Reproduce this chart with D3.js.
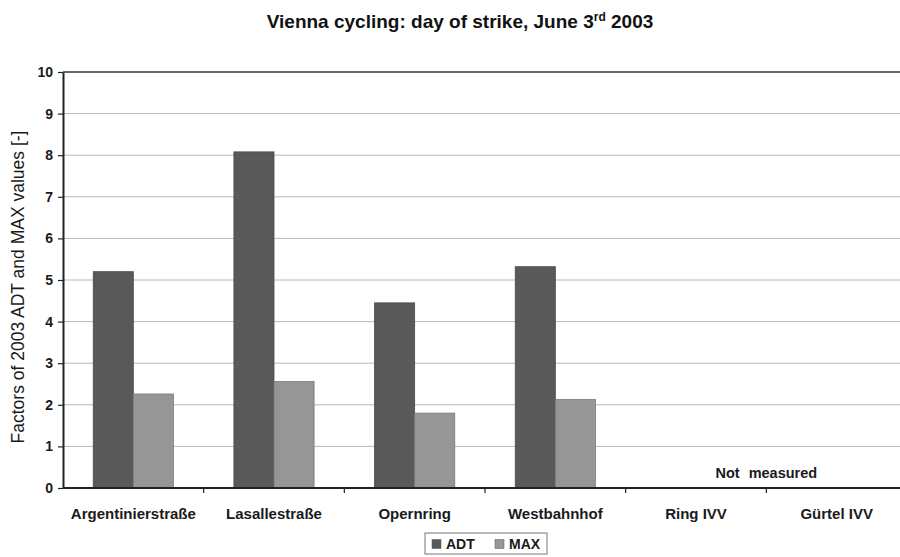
<!DOCTYPE html>
<html>
<head>
<meta charset="utf-8">
<script src="https://cdn.jsdelivr.net/npm/d3@7"></script>
<style>
  body { margin: 0; background: #fff; }
  text { font-family: "Liberation Sans", Arial, sans-serif; fill: #1a1a1a; }
</style>
</head>
<body>
<div id="chart"></div>
<script>
// data
const sites = ["Argentinierstraße", "Lasallestraße", "Opernring", "Westbahnhof", "Ring IVV", "Gürtel IVV"];
const adt = [5.2, 8.08, 4.45, 5.32, null, null];
const maxv = [2.26, 2.56, 1.8, 2.13, null, null];
const yTicks = [0, 1, 2, 3, 4, 5, 6, 7, 8, 9, 10];
const seriesNames = ["ADT", "MAX"];
const colors = ["#595959", "#969696"];

const width = 900, height = 557;
const plotLeft = 63, plotRight = 907, plotTop = 72, plotBottom = 488;

const svg = d3.select("#chart").append("svg")
    .attr("width", width)
    .attr("height", height);

const x = d3.scaleBand().domain(sites).range([plotLeft, plotRight]).paddingInner(0.43).paddingOuter(0.215);
const xs = d3.scaleBand().domain(seriesNames).range([0, x.bandwidth()]);
const y = d3.scaleLinear().domain([0, 10]).range([plotBottom, plotTop]);

// gridlines
svg.append("g")
    .selectAll("line")
    .data(yTicks.filter(d => d > 0 && d < 10))
    .join("line")
    .attr("x1", plotLeft).attr("x2", plotRight)
    .attr("y1", d => y(d)).attr("y2", d => y(d))
    .style("stroke", "#b8b8b8")
    .style("stroke-width", 1);

// top border of the plot
svg.append("line")
    .attr("x1", plotLeft).attr("x2", plotRight)
    .attr("y1", y(10)).attr("y2", y(10))
    .style("stroke", "#333").style("stroke-width", 1.5);

// bars
const rows = sites.map((s, i) => ({site: s, vals: [adt[i], maxv[i]]}));
const groups = svg.append("g").selectAll("g")
    .data(rows)
    .join("g")
    .attr("transform", d => `translate(${x(d.site)},0)`);

groups.selectAll("rect")
    .data(d => d.vals.map((v, j) => ({name: seriesNames[j], v, j})).filter(e => e.v != null))
    .join("rect")
    .attr("x", e => xs(e.name))
    .attr("y", e => y(e.v))
    .attr("width", xs.bandwidth())
    .attr("height", e => y(0) - y(e.v))
    .style("fill", e => colors[e.j])
    .style("stroke", e => e.j == 0 ? "#4a4a4a" : "#7a7a7a")
    .style("stroke-width", 0.8);

// axes
const yAxis = d3.axisLeft(y).tickValues(yTicks).tickSize(5).tickSizeOuter(0).tickPadding(5);
const gy = svg.append("g")
    .attr("transform", `translate(${plotLeft},0)`)
    .call(yAxis);
gy.select(".domain").style("stroke", "#222").style("stroke-width", 2);
gy.selectAll(".tick line").style("stroke", "#222").style("stroke-width", 1.2);
gy.selectAll(".tick text")
    .style("font-size", "14px").style("font-weight", "bold")
    .style("font-family", "Liberation Sans, Arial, sans-serif").style("fill", "#1a1a1a");

// category boundaries as ticks
const xAxisG = svg.append("g").attr("transform", `translate(0,${plotBottom})`);
xAxisG.append("line")
    .attr("x1", plotLeft).attr("x2", plotRight)
    .style("stroke", "#222").style("stroke-width", 2);
xAxisG.selectAll("line.tk")
    .data(sites)
    .join("line")
    .attr("class", "tk")
    .attr("x1", d => x(d) + x.bandwidth() + x.step() * x.paddingInner() / 2)
    .attr("x2", d => x(d) + x.bandwidth() + x.step() * x.paddingInner() / 2)
    .attr("y1", 0).attr("y2", 5)
    .style("stroke", "#222").style("stroke-width", 1.2);
xAxisG.selectAll("text")
    .data(sites)
    .join("text")
    .attr("x", d => x(d) + x.bandwidth() / 2)
    .attr("y", 31)
    .attr("text-anchor", "middle")
    .style("font-size", "15px").style("font-weight", "bold")
    .text(d => d);

// not measured note
svg.append("text")
    .attr("x", (x("Ring IVV") + x("Gürtel IVV") + x.bandwidth()) / 2)
    .attr("y", 478)
    .attr("text-anchor", "middle")
    .style("font-size", "14.5px").style("font-weight", "bold")
    .style("word-spacing", "5px")
    .text("Not measured");

// title
const title = svg.append("text")
    .attr("x", 460).attr("y", 28)
    .attr("text-anchor", "middle")
    .style("font-size", "19px").style("font-weight", "bold")
    .style("fill", "#111");
title.append("tspan").text("Vienna cycling: day of strike, June 3");
title.append("tspan").attr("dy", -7).style("font-size", "12px").text("rd");
title.append("tspan").attr("dy", 7).text(" 2003");

// y label
svg.append("text")
    .attr("transform", `translate(24,287) rotate(-90)`)
    .attr("text-anchor", "middle")
    .style("font-size", "17.5px")
    .text("Factors of 2003 ADT and MAX values [-]");

// legend
const lg = svg.append("g").attr("transform", "translate(425,533)");
lg.append("rect")
    .attr("width", 122).attr("height", 21)
    .style("fill", "#fff").style("stroke", "#777").style("stroke-width", 1);
seriesNames.forEach((n, i) => {
    lg.append("rect")
        .attr("x", 7 + i * 63).attr("y", 6.5)
        .attr("width", 9).attr("height", 9)
        .style("fill", colors[i]).style("stroke", "#555").style("stroke-width", 0.5);
    lg.append("text")
        .attr("x", 21 + i * 63).attr("y", 16)
        .style("font-size", "14px").style("font-weight", "bold")
        .text(n);
});
</script>
</body>
</html>
